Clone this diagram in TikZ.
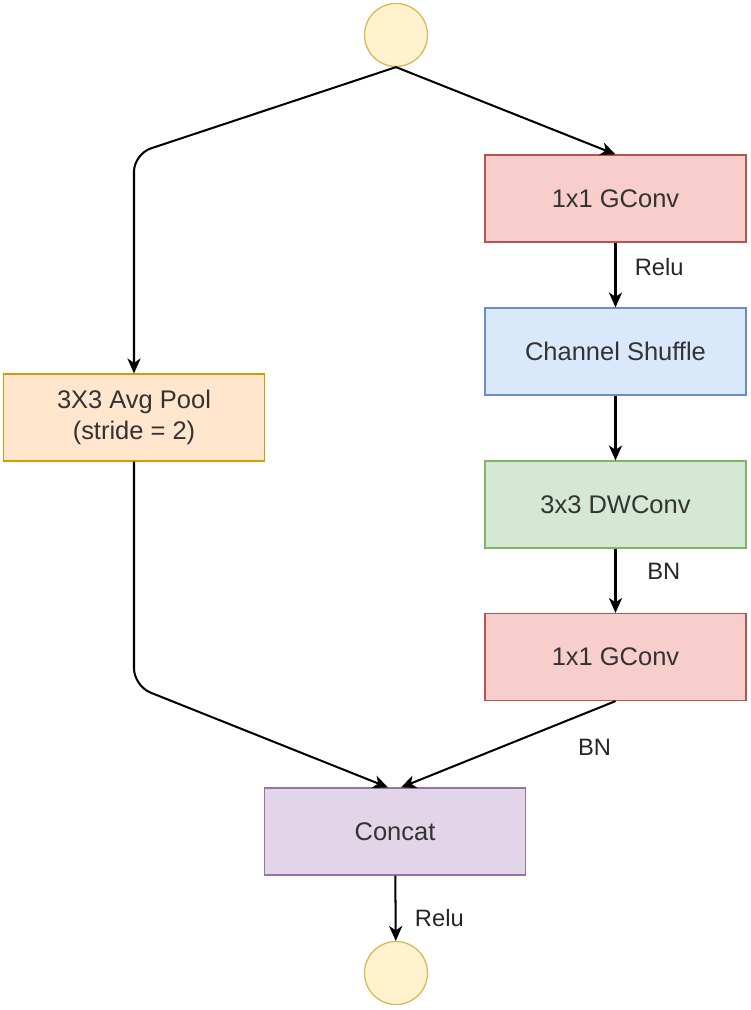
\documentclass[tikz,border=0pt]{standalone}
\usepackage{fontspec}
\setmainfont{Liberation Sans}
\usetikzlibrary{positioning, arrows.meta}
\definecolor{ioyellow}{HTML}{FFF2CC}
\definecolor{ioyellowline}{HTML}{D6B656}
\definecolor{iored}{HTML}{F8CECC}
\definecolor{ioredline}{HTML}{B85450}
\definecolor{ioblue}{HTML}{DAE8FC}
\definecolor{iobluelline}{HTML}{6C8EBF}
\definecolor{iogreen}{HTML}{D5E8D4}
\definecolor{iogreenline}{HTML}{82B366}
\definecolor{ioorange}{HTML}{FFE6CC}
\definecolor{ioorangeline}{HTML}{D79B00}
\definecolor{iopurple}{HTML}{E1D5E7}
\definecolor{iopurpleline}{HTML}{9673A6}

\begin{document}
\begin{tikzpicture}[x=0.02cm, y=-0.02cm, font=\fontsize{14.5}{17.5}\selectfont,
    >={Stealth[length=8.5pt, width=7.5pt, inset=2.5pt]},
    block/.style={rectangle, draw, line width=0.7pt, minimum width=5.22cm, minimum height=1.74cm, align=center, text=black!80},
    port/.style={circle, draw, line width=0.7pt, fill=ioyellow, draw=ioyellowline, minimum size=1.26cm, inner sep=0pt},
    lbl/.style={font=\fontsize{13.5}{16}\selectfont, text=black!85}]
    \useasboundingbox (0,0) rectangle (750,1010);

    % ノード（入出力・層）の定義
    \node[port] (In) at (396,35) {};
    \node[block, fill=iored, draw=ioredline] (GConvA) at (615.5,198.5) {1x1 GConv};
    \node[block, fill=ioblue, draw=iobluelline] (Shuffle) at (615.5,351.5) {Channel Shuffle};
    \node[block, fill=iogreen, draw=iogreenline] (DWConv) at (615.5,504.5) {3x3 DWConv};
    \node[block, fill=iored, draw=ioredline] (GConvB) at (615.5,657) {1x1 GConv};
    \node[block, fill=ioorange, draw=ioorangeline] (Pool) at (134,417.5) {3X3 Avg Pool\\(stride = 2)};
    \node[block, fill=iopurple, draw=iopurpleline] (Concat) at (395,831.5) {Concat};
    \node[port] (Out) at (396,973) {};

    % 折れ点
    \coordinate (BendA) at (134,154);
    \coordinate (BendB) at (134,686);

    % 矢印（接続）の描画
    \draw[->, line width=1.15pt] (In.south) -- (GConvA.north);
    \draw[->, line width=1.15pt, rounded corners=10pt] (In.south) -- (BendA) -- (Pool.north);
    \draw[->, line width=1.15pt] (GConvA) -- node[lbl, pos=0.38, right=0.25cm] {Relu} (Shuffle);
    \draw[->, line width=1.15pt] (Shuffle) -- (DWConv);
    \draw[->, line width=1.15pt] (DWConv) -- node[lbl, pos=0.35, right=0.5cm] {BN} (GConvB);
    \draw[->, line width=1.15pt] (GConvB.south) -- node[lbl, pos=0.3, below right=0.1cm and 0.4cm] {BN} ([xshift=0.12cm]Concat.north);
    \draw[->, line width=1.15pt, rounded corners=10pt] (Pool.south) -- (BendB) -- ([xshift=-0.14cm]Concat.north);
    \draw[->, line width=1.15pt] (Concat) -- node[lbl, pos=0.65, right=0.25cm] {Relu} (Out);
\end{tikzpicture}
\end{document}
